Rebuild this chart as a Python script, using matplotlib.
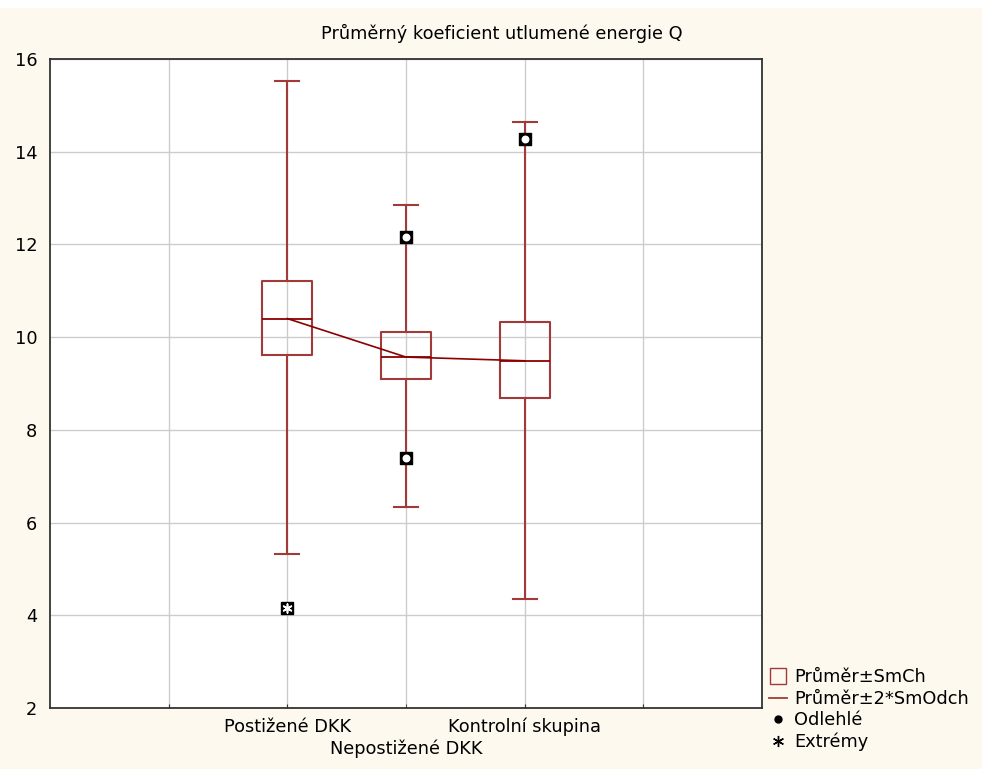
#Box plot - Průměrný koeficient utlumené energie Q

import numpy as np
import matplotlib
matplotlib.use('Agg')
import matplotlib.pyplot as plt
from matplotlib.lines import Line2D

plt.rcParams['font.family'] = ['DejaVu Sans']

#Data
groups = ['Postižené DKK', 'Nepostižené DKK', 'Kontrolní skupina']
means = [10.40, 9.57, 9.49]
box_lo = [9.62, 9.09, 8.69]      # průměr - SmCh
box_hi = [11.22, 10.11, 10.32]   # průměr + SmCh
whisk_lo = [5.32, 6.34, 4.36]    # průměr - 2*SmOdch
whisk_hi = [15.52, 12.84, 14.64] # průměr + 2*SmOdch
outlier_grp = [1, 1, 2]
outlier_val = [12.16, 7.39, 14.28]
extreme_grp = [0]
extreme_val = [4.15]

red = '#a23a3a'
dark = '#8b0000'
bg = '#fdf9ef'
fs = 12.8

fig = plt.figure(figsize=(9.82, 7.69), dpi=100, facecolor=bg)
fig.patches.append(plt.Rectangle((0, 0.99), 1, 0.01, transform=fig.transFigure,
                                 facecolor='white', edgecolor='none', zorder=0))
ax = fig.add_axes([0.0509, 0.0793, 0.7251, 0.844])
ax.set_facecolor('white')

pos = np.arange(1, len(groups) + 1)
stats = []
for i in range(len(groups)):
    stats.append({'med': means[i], 'q1': box_lo[i], 'q3': box_hi[i],
                  'whislo': whisk_lo[i], 'whishi': whisk_hi[i], 'fliers': []})

ax.bxp(stats, positions=pos, widths=0.42, capwidths=0.2, showfliers=False,
       boxprops=dict(color=red, linewidth=1.5),
       medianprops=dict(color=dark, linewidth=1.3),
       whiskerprops=dict(color=red, linewidth=1.5),
       capprops=dict(color=red, linewidth=1.5), zorder=3)

#line through the means
ax.plot(pos, means, color=dark, linewidth=1.2, zorder=4)

#outliers and extremes
op = pos[np.array(outlier_grp)]
ax.scatter(op, outlier_val, marker='s', s=80, c='black', zorder=5)
ax.scatter(op, outlier_val, marker='o', s=22, c='white', zorder=6)
ep = pos[np.array(extreme_grp)]
ax.scatter(ep, extreme_val, marker='s', s=80, c='black', zorder=5)
ax.scatter(ep, extreme_val, marker=(6, 2, 0), s=40, c='white', linewidths=1.2, zorder=6)

ax.set_xlim(-1, 5)
ax.set_ylim(2, 16)
ax.set_yticks(np.arange(2, 17, 2))
#first and third group on the first row, second group on a lower row
ax.set_xticks([0, pos[0], pos[2], 4])
ax.set_xticklabels(['', groups[0], groups[2], ''], fontsize=fs)
ax.set_xticks([pos[1]], minor=True)
ax.set_xticklabels([groups[1]], minor=True, fontsize=fs)
ax.tick_params(axis='y', labelsize=fs, length=0, pad=9)
ax.tick_params(axis='x', which='both', direction='in', length=3, color='#333333')
ax.tick_params(axis='x', which='major', pad=7)
ax.tick_params(axis='x', which='minor', pad=23)
ax.grid(True, which='both', color='#cccccc', linewidth=1)
ax.set_axisbelow(True)
for s in ax.spines.values():
    s.set_color('#333333')
    s.set_linewidth(1.3)

fig.text(0.511, 1 - 33 / 769, 'Průměrný koeficient utlumené energie Q',
         fontsize=fs, ha='center', va='center')

handles = [Line2D([], [], linestyle='none', marker='s', markersize=12,
                  markerfacecolor='none', markeredgecolor=red),
           Line2D([], [], color=red, linewidth=1.3),
           Line2D([], [], linestyle='none', marker='o', markersize=5, color='black'),
           Line2D([], [], linestyle='none', marker=(6, 2, 0), markersize=8, color='black')]
labels = ['Průměr±SmCh', 'Průměr±2*SmOdch', 'Odlehlé', 'Extrémy']
fig.legend(handles, labels, loc='lower left', bbox_to_anchor=(0.767, 0.002),
           frameon=False, fontsize=fs, handlelength=1.0, handletextpad=0.4,
           labelspacing=0.2)

plt.savefig('out.png', dpi=100, facecolor=bg)
